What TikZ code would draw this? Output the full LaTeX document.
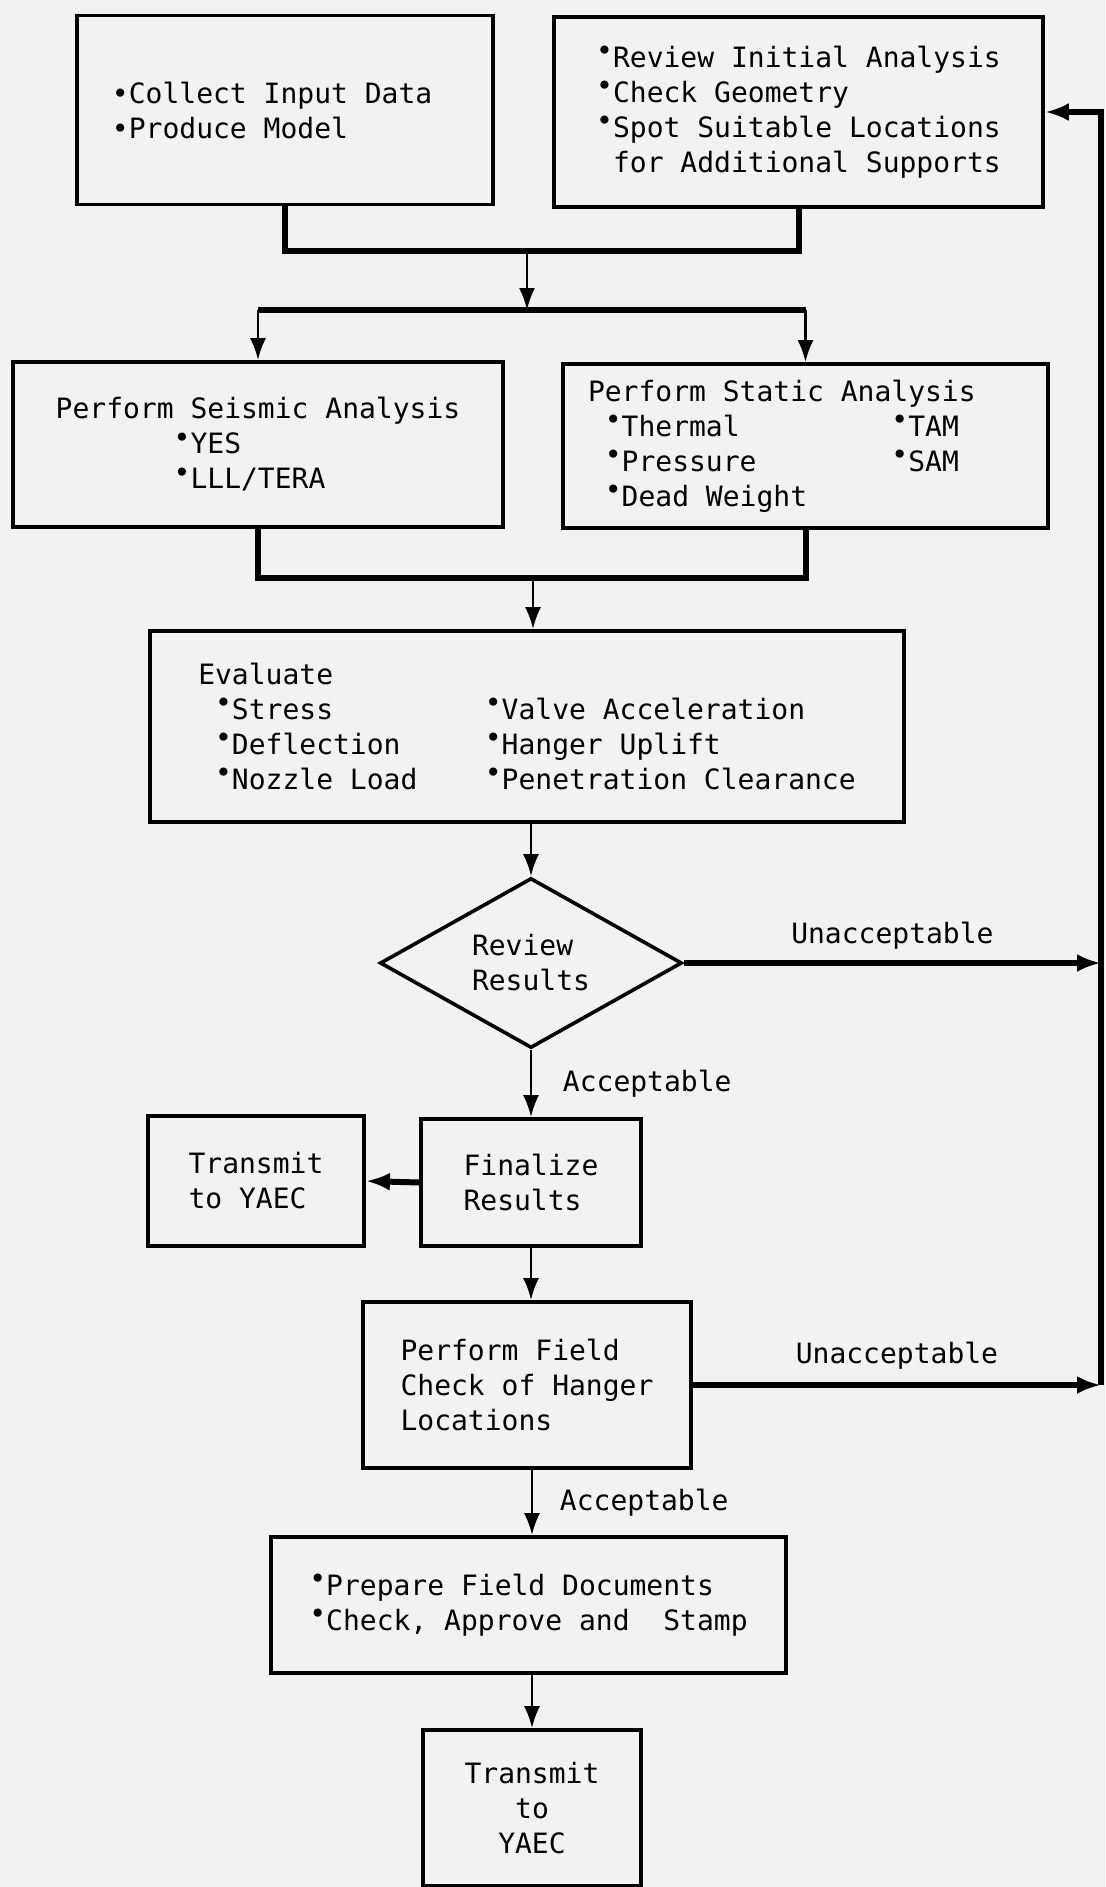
\documentclass[tikz,border=0pt]{standalone}
\usepackage{fontspec}
\setmainfont{DejaVu Sans Mono}[WordSpace={1,0,0}]
\usetikzlibrary{arrows.meta,shapes.geometric}
\newcommand{\bt}{\raisebox{.45ex}{•}}
\newcommand{\blank}[1]{\hspace*{#1\fontcharwd\font`\x}}

\begin{document}
\begin{tikzpicture}[x=0.5pt, y=-0.5pt,
        every node/.style={font=\fontsize{14}{17.5}\selectfont},
        box/.style={draw, line width=1.9pt, align=left, inner sep=4pt},
        decision/.style={draw, diamond, line width=1.8pt, aspect=1.78, inner sep=0pt, align=left},
        flow/.style={line width=1.3pt, -{Latex[length=11pt,width=8pt]}},
        heavy/.style={line width=3pt},
        heavyflow/.style={line width=3pt, -{Latex[length=12pt,width=9pt]}}]

        % Page and background
        \useasboundingbox (0,0) rectangle (1105,1887);
        \fill[black!5] (0,0) rectangle (1105,1887);

        % Top row
        \node[box, align=flush left, minimum width=208pt, minimum height=94.5pt, text width=173pt, inner xsep=17.5pt] (collect) at (285,110)
            {•Collect Input Data\\•Produce Model};
        \node[box, minimum width=244.5pt, minimum height=95pt] (initial) at (798.5,112)
            {\bt Review Initial Analysis\\\bt Check Geometry\\\bt Spot Suitable Locations\\\blank{1}for Additional Supports};

        % Analysis row
        \node[box, minimum width=245pt, minimum height=82.5pt] (seismic) at (258,444.5)
            {Perform Seismic Analysis\\\blank{7}\bt YES\\\blank{7}\bt LLL/TERA};
        \node[box, align=flush left, minimum width=242.5pt, minimum height=82pt, text width=217.5pt, inner xsep=12.5pt] (static) at (805.5,446)
            {Perform Static Analysis\\\blank{1}\bt Thermal\blank{9}\bt TAM\\\blank{1}\bt Pressure\blank{8}\bt SAM\\\blank{1}\bt Dead Weight};

        % Evaluation and review
        \node[box, minimum width=377pt, minimum height=95.5pt] (evaluate) at (527,726.5)
            {Evaluate\\\blank{1}\bt Stress\blank{9}\bt Valve Acceleration\\\blank{1}\bt Deflection\blank{5}\bt Hanger Uplift\\\blank{1}\bt Nozzle Load\blank{4}\bt Penetration Clearance};
        \node[decision, minimum width=151pt, minimum height=85pt] (decide) at (531,963) {Review\\Results};

        % Lower steps
        \node[box, minimum width=110pt, minimum height=63.5pt] (finalize) at (531,1182.5) {Finalize\\Results};
        \node[box, minimum width=108pt, minimum height=65pt] (send) at (256,1181) {Transmit\\to YAEC};
        \node[box, minimum width=164pt, minimum height=83pt] (field) at (527,1385) {Perform Field\\Check of Hanger\\Locations};
        \node[box, minimum width=257.5pt, minimum height=68pt] (prepare) at (528.5,1605)
            {\bt Prepare Field Documents\\\bt Check, Approve and\blank{2}Stamp};
        \node[box, align=center, minimum width=109pt, minimum height=78pt] (final) at (532,1808) {Transmit\\to\\YAEC};

        % Junction points
        \coordinate (join1) at (527,251);
        \coordinate (split) at (527,310);
        \coordinate (join2) at (533,578);
        \coordinate (rail) at (1101,0);

        % Merge top row, then split
        \draw[heavy] (collect.south) |- (join1) -| (initial.south);
        \draw[flow] (join1) -- (split);
        \draw[heavy] (seismic.north |- split) -- (static.north |- split);
        \draw[flow] (seismic.north |- split) -- (seismic.north);
        \draw[flow] (static.north |- split) -- (static.north);

        % Merge analysis row
        \draw[heavy] (seismic.south) |- (join2) -| (static.south);
        \draw[flow] (join2) -- (join2 |- evaluate.north);

        % Review decision
        \draw[flow] (decide.north |- evaluate.south) -- (decide.north);
        \draw[heavyflow] (decide.east) -- node[midway, above=2pt] {Unacceptable} (decide.east -| rail);
        \draw[flow] (decide.south) -- node[midway, right=12pt] {Acceptable} (finalize.north);

        % Finalize and field check
        \draw[heavyflow] (finalize.west) -- (send.east);
        \draw[flow] (finalize.south) -- (finalize.south |- field.north);
        \draw[heavyflow] (field.east) -- node[midway, above=3pt] {Unacceptable} (field.east -| rail);
        \draw[flow] (field.south -| final.north) -- node[midway, right=10pt] {Acceptable} (prepare.north -| final.north);
        \draw[flow] (prepare.south -| final.north) -- (final.north);

        % Loop back to the top
        \draw[heavyflow] (field.east -| rail) |- (initial.east);

\end{tikzpicture}
\end{document}
